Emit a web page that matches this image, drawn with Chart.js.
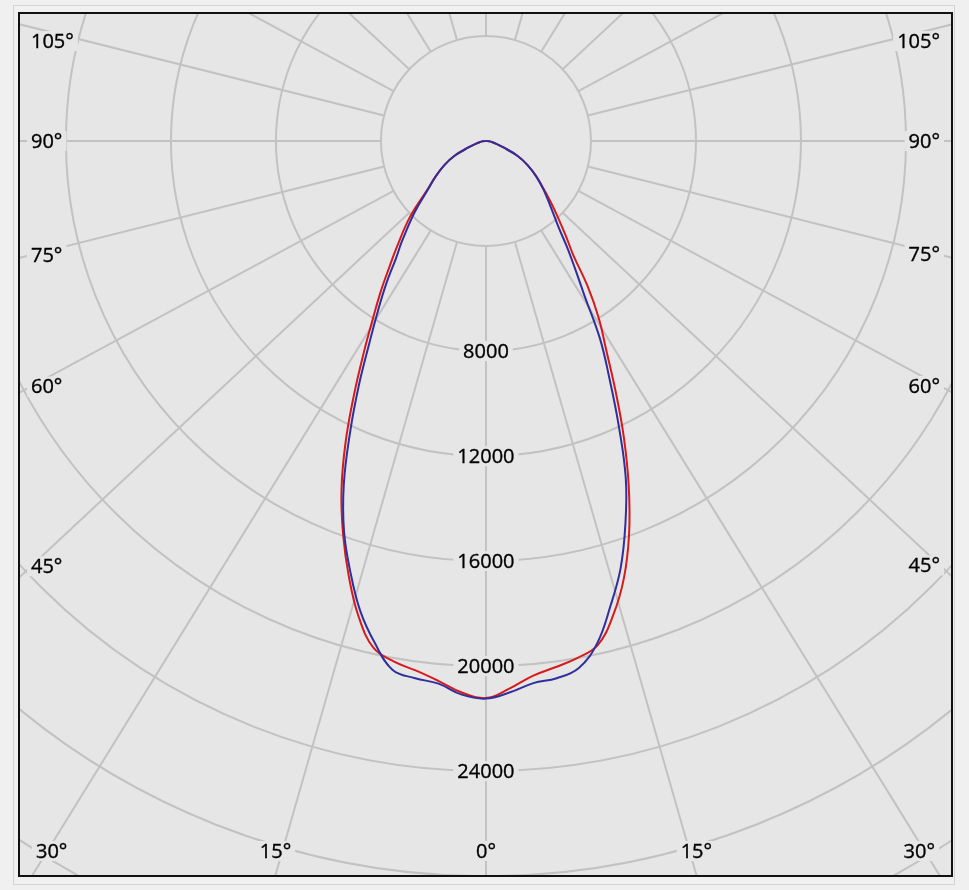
<!DOCTYPE html>
<html>
<head>
<meta charset="utf-8">
<title>Luminous intensity distribution</title>
<script src="https://cdn.jsdelivr.net/npm/chart.js@4.4.0/dist/chart.umd.min.js"></script>
<style>
  html, body { margin: 0; padding: 0; background: #f0f0f0; }
  canvas { display: block; }
</style>
</head>
<body>
<canvas id="polarChart" width="969" height="890"></canvas>
<script>
// gamma angles (degrees away from nadir) where intensities were read
const angles = [0, 2.5, 5, 7.5, 10, 12.5, 15, 17.5, 20, 22.5, 25, 27.5, 30, 32.5, 35, 37.5, 40, 45, 50, 55, 60, 65, 70, 75, 80, 85, 90];

// red curve (C0-C180 plane), cd
const redLeft  = [21220, 21030, 20650, 20350, 20140, 19780, 18750, 17380, 15920, 14380, 12650, 10880, 9310, 8010, 6980, 6040, 5290, 4100, 2950, 2330, 1830, 1320, 690, 410, 250, 120, 0];
const redRight = [21230, 20870, 20450, 20220, 20000, 19670, 18710, 17470, 15940, 14210, 12420, 10660, 9140, 8000, 6750, 5450, 4750, 3680, 2900, 2330, 1830, 1320, 690, 410, 250, 120, 0];

// blue curve (C90-C270 plane), cd
const blueLeft  = [21240, 21110, 20750, 20640, 20460, 19580, 18520, 17190, 15810, 14150, 12250, 10480, 8880, 7650, 6610, 5630, 4970, 3850, 2900, 2330, 1830, 1320, 690, 410, 250, 120, 0];
const blueRight = [21240, 21020, 20730, 20640, 20380, 19590, 18330, 17060, 15530, 13920, 11970, 10180, 8680, 6990, 5900, 5050, 4320, 3450, 2850, 2330, 1830, 1320, 690, 410, 250, 120, 0];

// grid
const ringValues = [4000, 8000, 12000, 16000, 20000, 24000, 28000, 32000];
const ringLabels = [8000, 12000, 16000, 20000, 24000];
const spokeAngles = [0, 15, 30, 45, 60, 75, 90, 105, 120, 135, 150, 165, 180, 195, 210, 225, 240, 255, 270, 285, 300, 315, 330, 345];
const sideLabelAngles = [45, 60, 75, 90, 105];
const bottomLabelAngles = [0, 15, 30];

// visible window, cd
const X_MIN = -17750, X_MAX = 17715;
const Y_MIN = -27960, Y_MAX = 4840;

const PAGE_BG = '#f0f0f0';
const PLOT_BG = '#e6e6e6';
const GRID = '#c2c2c2';
const RED = '#d81a1a';
const BLUE = '#2f2f9e';
const FONT = '20px "Open Sans", "DejaVu Sans", sans-serif';
const SPOKE_STRETCH = 1.07; // the original draws its spokes slightly widened

function toPoints(left, right) {
    const pts = [];
    for (let i = angles.length - 1; i >= 0; i--) {
        const a = angles[i] * Math.PI / 180;
        pts.push({ x: -left[i] * Math.sin(a), y: -left[i] * Math.cos(a) });
    }
    for (let i = 1; i < angles.length; i++) {
        const a = angles[i] * Math.PI / 180;
        pts.push({ x: right[i] * Math.sin(a), y: -right[i] * Math.cos(a) });
    }
    return pts;
}

function boxedText(ctx, text, x, y, align) {
    const w = ctx.measureText(text).width;
    const left = align === 'left' ? x : align === 'right' ? x - w : x - w / 2;
    ctx.fillStyle = PLOT_BG;
    ctx.fillRect(left - 4, y - 10, w + 8, 20);
    ctx.fillStyle = '#000';
    ctx.strokeStyle = '#000';
    ctx.lineWidth = 0.35;
    ctx.textAlign = 'left';
    ctx.fillText(text, left, y + 1);
    ctx.strokeText(text, left, y + 1);
}

const polarGrid = {
    id: 'polarGrid',
    beforeDraw(chart) {
        const { ctx, chartArea: ca, width, height } = chart;
        ctx.save();
        ctx.fillStyle = PAGE_BG;
        ctx.fillRect(0, 0, width, height);
        ctx.strokeStyle = '#d4d4d4';
        ctx.lineWidth = 1;
        ctx.strokeRect(13.5, 5.5, 941, 879);
        ctx.fillStyle = PLOT_BG;
        ctx.fillRect(ca.left, ca.top, ca.right - ca.left, ca.bottom - ca.top);
        ctx.restore();
    },
    beforeDatasetsDraw(chart) {
        const { ctx, chartArea: ca, scales: { x, y } } = chart;
        const cx = x.getPixelForValue(0), cy = y.getPixelForValue(0);
        const pxPerCd = x.getPixelForValue(1000) - cx;
        const rad = v => v / 1000 * pxPerCd;

        ctx.save();
        ctx.beginPath();
        ctx.rect(ca.left, ca.top, ca.right - ca.left, ca.bottom - ca.top);
        ctx.clip();

        ctx.strokeStyle = GRID;
        ctx.lineWidth = 2;
        ringValues.forEach(v => {
            ctx.beginPath();
            ctx.arc(cx, cy, rad(v), 0, 2 * Math.PI);
            ctx.stroke();
        });

        const r0 = rad(ringValues[0]);
        spokeAngles.forEach(deg => {
            const a = deg * Math.PI / 180;
            const dx = SPOKE_STRETCH * Math.sin(a), dy = Math.cos(a);
            const len = Math.hypot(dx, dy);
            ctx.beginPath();
            ctx.moveTo(cx + dx / len * r0, cy + dy / len * r0);
            ctx.lineTo(cx + dx / len * 2000, cy + dy / len * 2000);
            ctx.stroke();
        });

        ctx.font = FONT;
        ctx.textBaseline = 'middle';

        // intensity labels down the 0 degree spoke
        ringLabels.forEach(v => boxedText(ctx, String(v), cx, cy + rad(v), 'center'));

        // angle labels on the left and right edges
        sideLabelAngles.forEach(deg => {
            const a = deg * Math.PI / 180;
            const slope = Math.cos(a) / (SPOKE_STRETCH * Math.sin(a));
            const xl = ca.left + 11, xr = ca.right - 11;
            const yl = Math.max(cy + (cx - xl) * slope, ca.top + 27);
            const yr = Math.max(cy + (xr - cx) * slope, ca.top + 27);
            boxedText(ctx, deg + '°', xl, yl, 'left');
            boxedText(ctx, deg + '°', xr, yr, 'right');
        });

        // angle labels along the bottom
        const by = ca.bottom - 24;
        bottomLabelAngles.forEach(deg => {
            const text = deg + '°';
            const w = ctx.measureText(text).width;
            const a = deg * Math.PI / 180;
            const off = SPOKE_STRETCH * Math.sin(a) * (ca.bottom - cy) / Math.cos(a);
            const lo = ca.left + 16 + w / 2, hi = ca.right - 16 - w / 2;
            const sides = deg === 0 ? [0] : [-1, 1];
            sides.forEach(s => {
                const xc = Math.min(hi, Math.max(lo, cx + s * off));
                boxedText(ctx, text, xc, by, 'center');
            });
        });
        ctx.restore();
    },
    afterDraw(chart) {
        const { ctx, chartArea: ca } = chart;
        ctx.save();
        ctx.strokeStyle = '#111';
        ctx.lineWidth = 2;
        ctx.strokeRect(ca.left - 1, ca.top - 1, ca.right - ca.left + 2, ca.bottom - ca.top + 2);
        ctx.restore();
    }
};

new Chart(document.getElementById('polarChart'), {
    type: 'scatter',
    data: {
        datasets: [
            {
                label: 'C0 - C180',
                data: toPoints(redLeft, redRight),
                showLine: true,
                borderColor: RED,
                borderWidth: 2,
                pointRadius: 0,
                tension: 0.4,
                fill: false,
                order: 2
            },
            {
                label: 'C90 - C270',
                data: toPoints(blueLeft, blueRight),
                showLine: true,
                borderColor: BLUE,
                borderWidth: 2,
                pointRadius: 0,
                tension: 0.4,
                fill: false,
                order: 1
            }
        ]
    },
    options: {
        responsive: false,
        animation: false,
        layout: { padding: { left: 20, top: 14, right: 18, bottom: 15 } },
        plugins: {
            legend: { display: false },
            tooltip: { enabled: false }
        },
        scales: {
            x: { type: 'linear', min: X_MIN, max: X_MAX, display: false },
            y: { type: 'linear', min: Y_MIN, max: Y_MAX, display: false }
        }
    },
    plugins: [polarGrid]
});
</script>
</body>
</html>
